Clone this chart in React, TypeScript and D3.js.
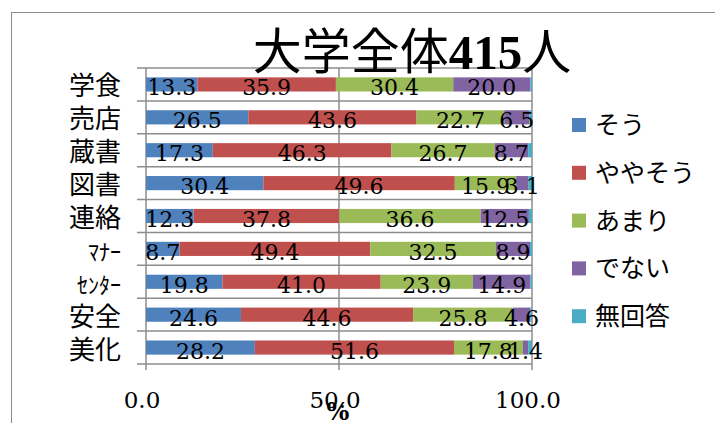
import React from 'react';
import { scaleLinear, scaleBand, stack, format } from 'd3';

const categories = ['学食', '売店', '蔵書', '図書', '連絡', 'ﾏﾅｰ', 'ｾﾝﾀｰ', '安全', '美化'];
const seriesNames = ['そう', 'ややそう', 'あまり', 'でない', '無回答'];
const sou = [13.3, 26.5, 17.3, 30.4, 12.3, 8.7, 19.8, 24.6, 28.2];
const yayasou = [35.9, 43.6, 46.3, 49.6, 37.8, 49.4, 41.0, 44.6, 51.6];
const amari = [30.4, 22.7, 26.7, 15.9, 36.6, 32.5, 23.9, 25.8, 17.8];
const denai = [20.0, 6.5, 8.7, 3.1, 12.5, 8.9, 14.9, 4.6, 1.4];
const mukaitou = [0.4, 0.7, 1.0, 1.0, 0.8, 0.5, 0.4, 0.4, 1.0];
const colors = ['#4F81BD', '#C0504D', '#9BBB59', '#8064A2', '#4BACC6'];
const xTicks = [0, 50, 100];

const title = '大学全体';
const titleNum = '415';
const titleTail = '人';

const serif = "'DejaVu Serif', 'Noto Sans CJK JP', serif";
const jp = "'Noto Sans CJK JP', sans-serif";
const grid = '#8c8c8c';

const App = () => {
  const width = 715;
  const height = 423;
  const margin = { top: 68, right: 183, bottom: 59, left: 146 };

  // table built from the arrays
  const rows = categories.map((c, i) => ({
    cat: c,
    'そう': sou[i],
    'ややそう': yayasou[i],
    'あまり': amari[i],
    'でない': denai[i],
    '無回答': mukaitou[i],
  }));
  const layers = stack().keys(seriesNames)(rows as any);

  const x = scaleLinear().domain([0, 100]).range([margin.left, width - margin.right]);
  const y = scaleBand().domain(categories).range([margin.top, height - margin.bottom]).paddingInner(0.57).paddingOuter(0.285);
  const band = scaleBand().domain(categories).range([margin.top, height - margin.bottom]);
  const fmt = format('.1f');

  const bounds = categories.map((c) => band(c) as number).concat([height - margin.bottom]);

  return (
    <svg width={width} height={height} style={{ position: 'absolute', left: 0, top: 0, background: '#fff' }}>
      <rect x={11.5} y={12.5} width={800} height={500} fill="#fff" stroke="#8a8a8a" strokeWidth={1} />

      {/* horizontal grid + category ticks */}
      {bounds.map((b, i) => (
        <line key={'h' + i} x1={x(0) - 9} x2={x(100)} y1={b} y2={b} stroke={grid} strokeWidth={1.5} />
      ))}
      {/* vertical grid + value ticks */}
      {xTicks.map((t) => (
        <line key={'v' + t} x1={x(t)} x2={x(t)} y1={margin.top} y2={height - margin.bottom + 6} stroke={grid} strokeWidth={1.5} />
      ))}

      {/* bars */}
      {layers.map((layer, si) => (
        <g key={seriesNames[si]} fill={colors[si]}>
          {layer.map((d, i) => (
            <rect key={i} x={x(d[0])} width={x(d[1]) - x(d[0])} y={y(categories[i])} height={y.bandwidth()} />
          ))}
        </g>
      ))}

      {/* data labels (first four series) */}
      {layers.slice(0, 4).map((layer, si) => (
        <g key={'l' + si} fontFamily={serif} fontSize={22} textAnchor="middle" fill="#000">
          {layer.map((d, i) => (
            <text key={i} x={(x(d[0]) + x(d[1])) / 2} y={(y(categories[i]) as number) + y.bandwidth() / 2 + 11}>
              {fmt(d[1] - d[0])}
            </text>
          ))}
        </g>
      ))}

      {/* category labels */}
      {categories.map((c) => (
        <text key={c} x={121} y={(band(c) as number) + band.bandwidth() / 2 + 11} textAnchor="end" fontFamily={jp} fontSize={c.length > 2 ? 22 : 26} fill="#000">
          {c}
        </text>
      ))}

      {/* x tick labels */}
      {xTicks.map((t) => (
        <text key={'t' + t} x={x(t) - 4} y={408} textAnchor="middle" fontFamily={serif} fontSize={23} fill="#000">
          {fmt(t)}
        </text>
      ))}
      <text x={338} y={420} textAnchor="middle" fontFamily={serif} fontSize={24} fontWeight="bold" fill="#000">%</text>

      {/* title */}
      <text x={412} y={69} textAnchor="middle" fontSize={49} fill="#000" fontFamily={jp}>
        {title}
        <tspan fontFamily="'Liberation Serif', serif" fontWeight="bold">{titleNum}</tspan>
        {titleTail}
      </text>

      {/* legend */}
      {seriesNames.map((s, i) => (
        <g key={s} transform={`translate(572, ${118 + i * 47.8})`}>
          <rect width={14} height={14} fill={colors[i]} />
          <text x={23} y={16} fontFamily={jp} fontSize={25} fill="#000">{s}</text>
        </g>
      ))}
    </svg>
  );
};

export default App;
